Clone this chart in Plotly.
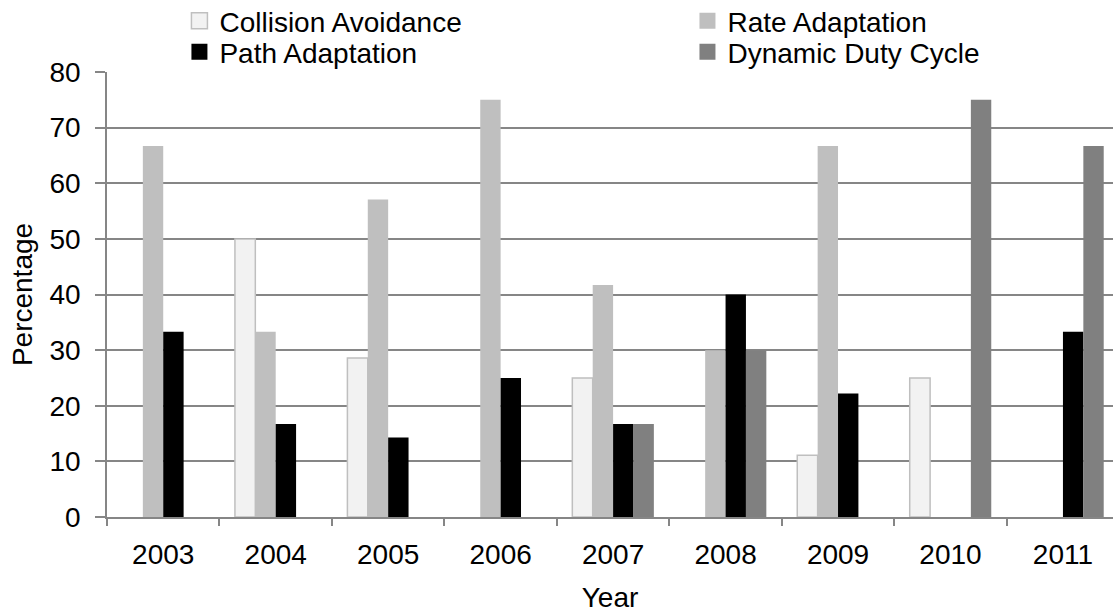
import plotly.graph_objects as go

years = ["2003", "2004", "2005", "2006", "2007", "2008", "2009", "2010", "2011"]
collision_avoidance = [0, 50, 28.6, 0, 25, 0, 11.1, 25, 0]
rate_adaptation = [66.7, 33.3, 57.1, 75, 41.7, 30, 66.7, 0, 0]
path_adaptation = [33.3, 16.7, 14.3, 25, 16.7, 40, 22.2, 0, 33.3]
dynamic_duty_cycle = [0, 0, 0, 0, 16.7, 30, 0, 75, 66.7]

# name, values, fill, outline colour, outline width, legend slot
series = [
    ("Collision Avoidance", collision_avoidance, "#f2f2f2", "#bfbfbf", 1.5, "legend"),
    ("Rate Adaptation", rate_adaptation, "#bfbfbf", "#bfbfbf", 0, "legend2"),
    ("Path Adaptation", path_adaptation, "#000000", "#000000", 0, "legend3"),
    ("Dynamic Duty Cycle", dynamic_duty_cycle, "#808080", "#808080", 0, "legend4"),
]

fig = go.Figure()
for name, vals, fill, edge, lw, leg in series:
    fig.add_trace(go.Bar(
        x=years, y=vals, name=name, showlegend=False,
        marker=dict(
            color=fill,
            line=dict(color=edge, width=[lw if v > 0 else 0 for v in vals]),
        ),
    ))
    # legend key: a filled square with the series outline
    fig.add_trace(go.Scatter(
        x=[None], y=[None], mode="markers", name=name, legend=leg,
        marker=dict(symbol="square", size=16, color=fill,
                    line=dict(color=edge, width=1.5 if lw else 0)),
    ))

font = "Liberation Sans, Arial, sans-serif"
fs = 28
grid = "#868686"

legend_common = dict(
    orientation="h", xanchor="left", yanchor="middle", itemwidth=30,
    font=dict(family=font, size=fs, color="black"),
    bgcolor="rgba(0,0,0,0)", borderwidth=0,
)
col_x = [0.072, 0.577]
row_y = [1 + (72 - 21) / 445, 1 + (72 - 52) / 445]

fig.update_layout(
    width=1113, height=615,
    margin=dict(l=107, r=0, t=72, b=98, autoexpand=False),
    paper_bgcolor="white", plot_bgcolor="white",
    barmode="group", bargap=0.275, bargroupgap=0,
    font=dict(family=font, size=fs, color="black"),
    legend=dict(x=col_x[0], y=row_y[0], **legend_common),
    legend2=dict(x=col_x[1], y=row_y[0], **legend_common),
    legend3=dict(x=col_x[0], y=row_y[1], **legend_common),
    legend4=dict(x=col_x[1], y=row_y[1], **legend_common),
    xaxis=dict(
        title=dict(text="Year", font=dict(size=fs), standoff=18),
        range=[-0.5, 8.445],
        showline=True, linecolor=grid, linewidth=1.5,
        ticks="outside", tickson="boundaries", ticklen=7, tickcolor=grid, tickwidth=1.5,
        ticklabelstandoff=12,
        showgrid=False,
        tickfont=dict(size=fs),
    ),
    yaxis=dict(
        title=dict(text="Percentage", font=dict(size=fs), standoff=9),
        range=[0, 80], dtick=10,
        showline=True, linecolor=grid, linewidth=1.5,
        ticks="outside", ticklen=10, tickcolor=grid, tickwidth=1.5,
        ticklabelstandoff=9,
        showgrid=True, gridcolor=grid, gridwidth=1.5,
        zeroline=False,
        tickfont=dict(size=fs),
    ),
)

fig.write_html("out.html")
